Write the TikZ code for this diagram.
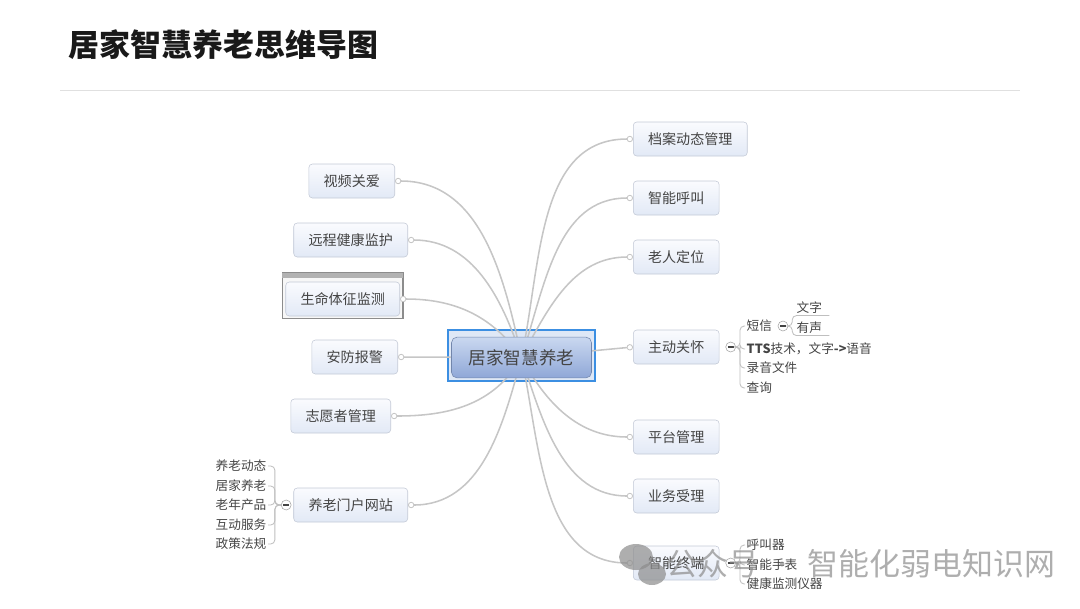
\documentclass[tikz,border=0pt]{standalone}
\usepackage{fontspec}
\setmainfont{Noto Sans CJK SC}
\usetikzlibrary{arrows.meta, positioning, backgrounds}

\definecolor{ink}{HTML}{444444}
\definecolor{edge}{HTML}{C3C9D6}
\definecolor{topicTop}{HTML}{FAFBFE}
\definecolor{topicBot}{HTML}{E2E9F6}
\definecolor{wire}{HTML}{C6C6C6}
\definecolor{hubTop}{HTML}{CAD8F0}
\definecolor{hubBot}{HTML}{8FA7D7}
\definecolor{hubFrame}{HTML}{3C8FE2}
\definecolor{wmgray}{HTML}{8C8C8C}

\begin{document}
\begin{tikzpicture}[
    x=0.025cm, y=-0.025cm,
    topic/.style={rectangle, rounded corners=2.5pt, draw=edge, top color=topicTop, bottom color=topicBot, text=ink, font=\fontsize{10}{12}\selectfont, minimum height=0.85cm, inner xsep=0.37cm},
    hubnode/.style={rectangle, rounded corners=4pt, draw=hubBot!80!black, top color=hubTop, bottom color=hubBot, text=ink, font=\fontsize{12.5}{14}\selectfont, minimum width=3.5cm, minimum height=1.02cm},
    leaf/.style={text=ink, font=\fontsize{9}{10}\selectfont, inner sep=1pt},
    fold/.style={circle, draw=black!35, fill=white, inner sep=0pt, minimum size=0.25cm,
        path picture={\draw[line width=0.8pt, ink] ([xshift=-2pt]path picture bounding box.center) -- ([xshift=2pt]path picture bounding box.center);}},
    link/.style={draw=wire, line width=1.1pt, -{Circle[length=4.5pt, fill=white, line width=0.6pt]}},
    twig/.style={draw=black!25, line width=0.6pt, rounded corners=3pt}
]
\useasboundingbox (0,0) rectangle (1080,608);

% title
\node[anchor=west, font=\fontsize{22}{25}\selectfont\bfseries, text=black!90] (title) at (64,45) {居家智慧养老思维导图};
\draw[black!12, line width=0.6pt] (60,90) -- (1020,90);

% centre topic
\node[hubnode] (hub) at (521.5,357.5) {居家智慧养老};
\begin{scope}[on background layer]
  \draw[hubFrame, line width=1.2pt, fill=hubTop!60] ([shift={(-3,-7)}]hub.north west) rectangle ([shift={(3,3)}]hub.south east);
\end{scope}

% right side
\node[topic, anchor=west] (archive) at (633,139) {档案动态管理};
\node[topic, anchor=west] (call) at (633,198) {智能呼叫};
\node[topic, anchor=west] (locate) at (633,257) {老人定位};
\node[topic, anchor=west] (care) at (633,347) {主动关怀};
\node[topic, anchor=west] (platform) at (633,437) {平台管理};
\node[topic, anchor=west] (service) at (633,496) {业务受理};
\node[topic, anchor=west] (terminal) at (633,563) {智能终端};

% left side
\node[topic, anchor=east] (video) at (395,181) {视频关爱};
\node[topic, anchor=east] (remote) at (408,240) {远程健康监护};
\node[topic, anchor=east] (vital) at (400,299) {生命体征监测};
\node[topic, anchor=east] (alarm) at (398,357) {安防报警};
\node[topic, anchor=east] (volunteer) at (391,416) {志愿者管理};
\node[topic, anchor=east] (portal) at (408,505) {养老门户网站};

\begin{scope}[on background layer]
  \draw[black!45, line width=1pt, fill=black!3] ([shift={(-3,-9)}]vital.north west) rectangle ([shift={(3,2)}]vital.south east);
  \fill[black!30] ([shift={(-3,-9)}]vital.north west) rectangle ([shift={(3,-4)}]vital.north east);
\end{scope}

% branches
\begin{scope}[on background layer]
  \draw[link] (hub.center) to[out=78, in=180] (archive.west);
  \draw[link] (hub.center) to[out=72, in=180] (call.west);
  \draw[link] (hub.center) to[out=62, in=180] (locate.west);
  \draw[link] (hub.center) -- (care.west);
  \draw[link] (hub.center) to[out=-62, in=180] (platform.west);
  \draw[link] (hub.center) to[out=-72, in=180] (service.west);
  \draw[link] (hub.center) to[out=-78, in=180] (terminal.west);
  \draw[link] (hub.center) to[out=102, in=0] (video.east);
  \draw[link] (hub.center) to[out=108, in=0] (remote.east);
  \draw[link] (hub.center) to[out=125, in=0] (vital.east);
  \draw[link] (hub.center) -- (alarm.east);
  \draw[link] (hub.center) to[out=-120, in=0] (volunteer.east);
  \draw[link] (hub.center) to[out=-105, in=0] (portal.east);
\end{scope}

% portal leaves
\node[fold, left=0.05cm of portal] (portalfold) {};
\node[leaf, anchor=east] (news) at (268,466) {养老动态};
\node[leaf, anchor=east] (home) at (268,486) {居家养老};
\node[leaf, anchor=east] (goods) at (268,505) {老年产品};
\node[leaf, anchor=east] (forum) at (268,525) {互动服务};
\node[leaf, anchor=east] (policy) at (268,544) {政策法规};
\foreach \n in {news, home, goods, forum, policy}
  \draw[twig] (portalfold.west) -- ++(-6,0) |- (\n.east);

% care leaves
\node[fold, right=0.15cm of care] (carefold) {};
\node[leaf, anchor=west] (sms) at (745,326) {短信};
\node[leaf, anchor=west] (tts) at (745,349) {\textbf{TTS}技术，文字\textbf{->}语音};
\node[leaf, anchor=west] (record) at (745,368) {录音文件};
\node[leaf, anchor=west] (query) at (745,388) {查询};
\foreach \n in {sms, tts, record, query}
  \draw[twig] (carefold.east) -- ++(4,0) |- (\n.west);

\node[fold, right=0.1cm of sms] (smsfold) {};
\node[leaf, anchor=west] (text) at (795,308) {文字};
\node[leaf, anchor=west] (voice) at (795,328) {有声};
\foreach \n in {text, voice}
  \draw[twig] (smsfold.east) -- ++(4,0) |- ([xshift=4pt]\n.south east);

% terminal leaves
\node[fold, right=0.15cm of terminal] (termfold) {};
\node[leaf, anchor=west] (pager) at (745,545) {呼叫器};
\node[leaf, anchor=west] (watch) at (745,565) {智能手表};
\node[leaf, anchor=west] (monitor) at (745,584) {健康监测仪器};
\foreach \n in {pager, watch, monitor}
  \draw[twig] (termfold.east) -- ++(4,0) |- (\n.west);

% watermark
\begin{scope}[opacity=0.7]
  \fill[wmgray] (636,557) ellipse (17 and 13);
  \fill[wmgray] (652,574) ellipse (14 and 11);
  \node[anchor=west, text=wmgray, font=\fontsize{22}{25}\selectfont] (wmark) at (662,564) {公众号};
  \node[anchor=west, text=wmgray, font=\fontsize{22}{25}\selectfont] (wsite) at (803,564) {智能化弱电知识网};
  \fill[wmgray] (782,564) circle (2.5);
\end{scope}
\end{tikzpicture}
\end{document}
